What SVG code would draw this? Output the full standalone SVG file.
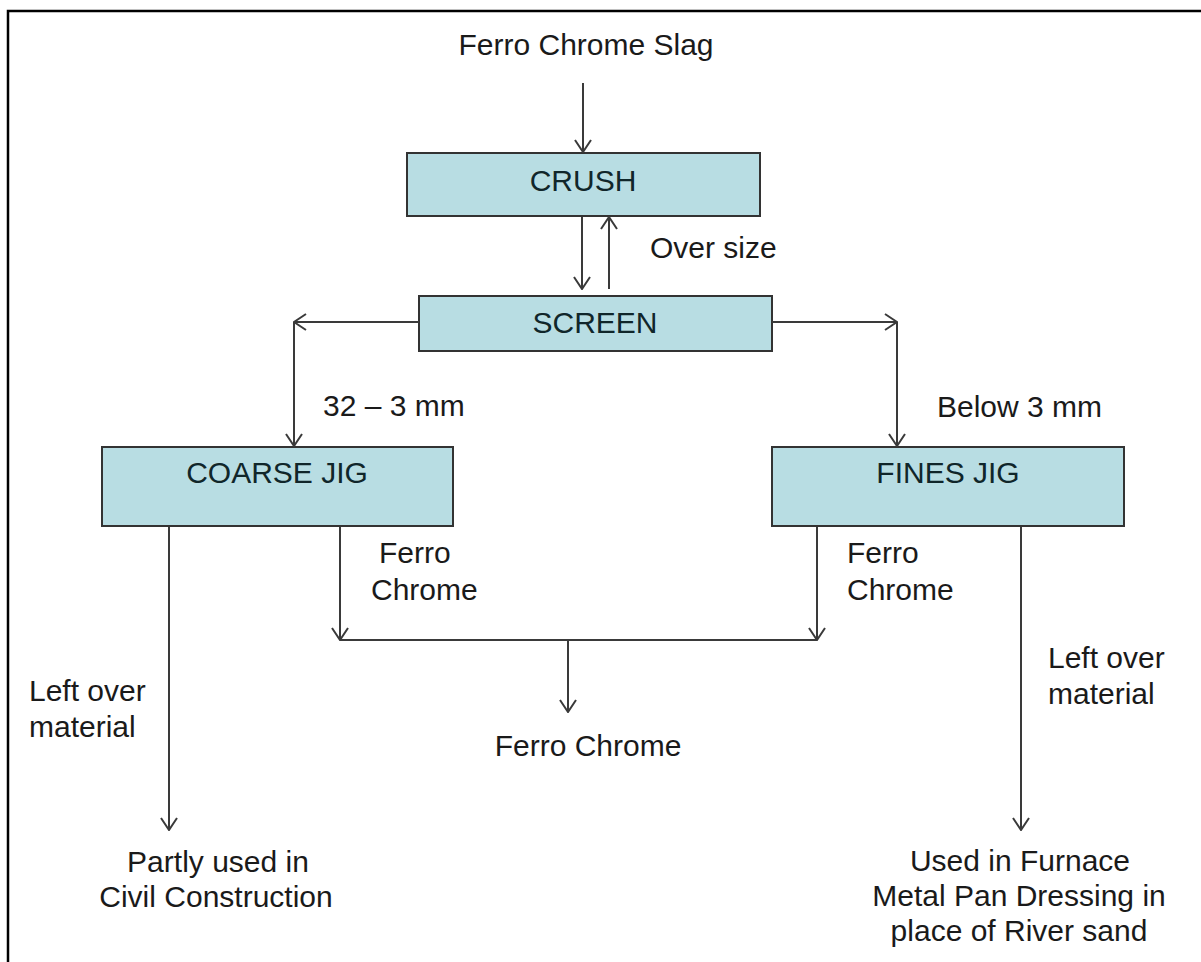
<svg xmlns="http://www.w3.org/2000/svg" width="1201" height="962" viewBox="0 0 1201 962">
<defs>
<style>
.box{fill:#b8dde3;stroke:#333;stroke-width:2}
.bt{font-family:"Liberation Sans",Arial,sans-serif;font-size:30px;fill:#10262a;text-anchor:middle}
.t{font-family:"Liberation Sans",Arial,sans-serif;font-size:30px;fill:#1a1a1a}
.c{text-anchor:middle}
.ln{stroke:#3a3a3a;stroke-width:2;fill:none}
.ar{marker-end:url(#ah)}
</style>
<marker id="ah" viewBox="0 0 14 18" refX="13" refY="9" markerWidth="14" markerHeight="18" markerUnits="userSpaceOnUse" orient="auto">
<path d="M1,1 L13,9 L1,17" fill="none" stroke="#3a3a3a" stroke-width="2"/>
</marker>
</defs>
<rect width="1201" height="962" fill="#fff"/>
<path d="M8,962 V11 H1201" fill="none" stroke="#000" stroke-width="2.5"/>

<g id="title"><text class="t c" x="586" y="55">Ferro Chrome Slag</text></g>

<g id="crush"><rect class="box" x="407" y="153" width="353" height="63"/><text class="bt" x="583" y="191">CRUSH</text></g>
<g id="screen"><rect class="box" x="419" y="296" width="353" height="55"/><text class="bt" x="595" y="333">SCREEN</text></g>
<g id="coarse"><rect class="box" x="102" y="447" width="351" height="79"/><text class="bt" x="277" y="483">COARSE JIG</text></g>
<g id="fines"><rect class="box" x="772" y="447" width="352" height="79"/><text class="bt" x="948" y="483">FINES JIG</text></g>

<g id="connectors">
<line class="ln ar" x1="583" y1="83" x2="583" y2="152"/>
<line class="ln ar" x1="582" y1="217" x2="582" y2="289"/>
<line class="ln ar" x1="609" y1="289" x2="609" y2="217"/>
<line class="ln ar" x1="419" y1="322" x2="294" y2="322"/>
<line class="ln ar" x1="294" y1="322" x2="294" y2="446"/>
<line class="ln ar" x1="772" y1="322" x2="897" y2="322"/>
<line class="ln ar" x1="897" y1="322" x2="897" y2="446"/>
<line class="ln ar" x1="169" y1="527" x2="169" y2="830"/>
<line class="ln ar" x1="340" y1="527" x2="340" y2="640"/>
<line class="ln ar" x1="817" y1="527" x2="817" y2="640"/>
<line class="ln" x1="340" y1="640" x2="817" y2="640"/>
<line class="ln ar" x1="568" y1="640" x2="568" y2="712"/>
<line class="ln ar" x1="1021" y1="527" x2="1021" y2="830"/>
</g>

<g id="labels">
<text class="t" x="650" y="258">Over size</text>
<text class="t" x="323" y="416">32 – 3 mm</text>
<text class="t" x="937" y="417">Below 3 mm</text>
<text class="t" x="379" y="563">Ferro</text>
<text class="t" x="371" y="600">Chrome</text>
<text class="t" x="847" y="563">Ferro</text>
<text class="t" x="847" y="600">Chrome</text>
<text class="t" x="29" y="701">Left over</text>
<text class="t" x="29" y="737">material</text>
<text class="t" x="1048" y="668">Left over</text>
<text class="t" x="1048" y="704">material</text>
</g>

<g id="ferro-chrome"><text class="t c" x="588" y="756">Ferro Chrome</text></g>
<g id="civil"><text class="t c" x="218" y="872">Partly used in</text><text class="t c" x="216" y="907">Civil Construction</text></g>
<g id="furnace"><text class="t c" x="1020" y="871">Used in Furnace</text><text class="t c" x="1019" y="906">Metal Pan Dressing in</text><text class="t c" x="1019" y="941">place of River sand</text></g>
</svg>
